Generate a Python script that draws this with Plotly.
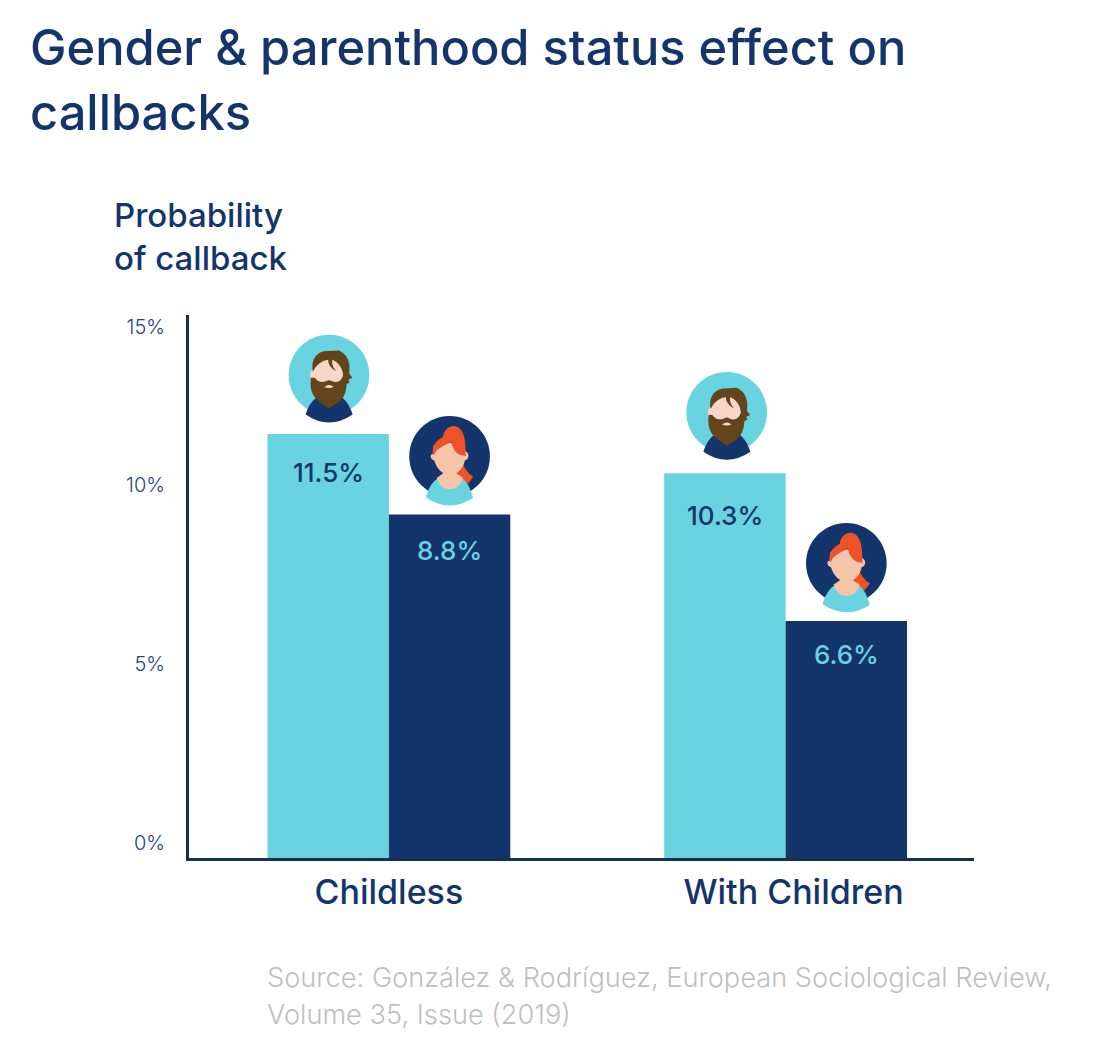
import re
import plotly.graph_objects as go

# Data
categories = ["Childless", "With Children"]
men_heights = [11.5, 10.44]      # drawn bar heights
women_heights = [9.32, 6.43]
men_labels = ["11.5%", "10.3%"]  # printed labels
women_labels = ["8.8%", "6.6%"]
tick_positions = [0.41, 5.26, 10.11, 14.4]
tick_labels = ["0%", "5%", "10%", "15%"]
category_tick_positions = [0, 1.02]

NAVY = "#14346C"
TEAL = "#6AD3E0"
AXIS = "#12324F"
FONT = "Inter"
W, H = 1102, 1052
PX = dict(l=188.5, r=974, t=315, b=858)
OFFSET_X = 8
OFFSET_Y = 8
CENTER0, STEP = 388.5, 397

BAR_HALF = 0.153
men_label_shift = [38, 42]
women_label_shift = [36, 34]
man_lift = [59, 60.7]
woman_lift = [58, 57.7]
man_dx = [0.8, 1.8]


def path(d, cy, cx=0):
    out, i = [], 0
    for tok in re.findall(r"[A-Za-z]|-?\d+\.?\d*", d):
        if tok.isalpha():
            out.append(tok)
        else:
            v = float(tok) / 3
            out.append(f"{cx + v:.2f}" if i % 2 == 0 else f"{cy - v:.2f}")
            i += 1
    return " ".join(out)


def part(x, y, d, cy, color, cx=0):
    return dict(type="path", xref="x", yref="y", xsizemode="pixel", ysizemode="pixel",
                xanchor=x, yanchor=y, path=path(d, cy, cx), fillcolor=color,
                line=dict(width=0), layer="above")


def disk(x, y, r, cy, color, cx=0):
    k = 0.5523 * r
    d = (f"M {-r},0 C {-r},{-k} {-k},{-r} 0,{-r} C {k},{-r} {r},{-k} {r},0 "
         f"C {r},{k} {k},{r} 0,{r} C {-k},{r} {-r},{k} {-r},0 Z")
    return part(x, y, d, cy, color, cx)


def man(x, y, cy, cx):
    brown, skin = "#62451A", "#F8D6C8"
    return [
        disk(x, y, 121, cy, TEAL, cx),
        part(x, y, "M -70,118 C -62,92 -48,72 -28,62 L 30,62 C 50,72 62,92 71,118 Q 0,166 -70,118 Z", cy, NAVY, cx),
        part(x, y, "M 36,-14 L 60,-6 L 70,8 L 58,14 L 62,22 L 50,28 L 44,36 L 36,36 Z", cy, brown, cx),
        part(x, y, "M -46,-16 C -58,-16 -60,6 -50,18 L -40,18 L -40,-16 Z", cy, skin, cx),
        part(x, y, "M -54,8 C -60,50 -44,70 -25,82 L 0,100 L 25,84 C 47,70 56,45 52,5 Z", cy, brown, cx),
        part(x, y, "M -46,-45 L 42,-45 L 42,2 C 36,20 22,25 8,18 Q 0,13 -8,18 C -24,25 -40,18 -46,0 Z", cy, skin, cx),
        part(x, y, "M -14,36 Q 0,24 14,36 Q 0,42 -14,36 Z", cy, skin, cx),
        part(x, y, "M -48,-10 C -56,-50 -32,-72 -5,-72 L 30,-74 L 40,-68 C 58,-56 66,-30 60,-2 L 42,-4 C 40,-24 25,-40 10,-46 C 8,-30 15,-20 22,-12 C 5,-20 -4,-35 -2,-46 C -20,-44 -38,-32 -48,-10 Z", cy, brown, cx),
    ]


def woman(x, y, cy):
    red, skin = "#EF5128", "#F4C5A8"
    return [
        disk(x, y, 121, cy, NAVY),
        part(x, y, "M 20,15 L 38,20 C 48,40 58,55 71,60 L 55,82 L 15,60 Z", cy, red),
        part(x, y, "M -71,123 C -65,100 -55,80 -38,68 L 40,68 C 55,80 64,100 70,125 Q 0,170 -71,123 Z", cy, TEAL),
        part(x, y, "M -38,64 L -18,50 L 18,50 L 40,64 C 30,110 -28,110 -38,64 Z", cy, skin),
        part(x, y, "M -48,-30 C -48,-48 48,-48 48,-15 C 60,-10 60,8 46,12 C 40,40 20,56 0,56 C -20,56 -40,35 -46,12 C -60,8 -60,-8 -48,-8 Z", cy, skin),
        part(x, y, "M -50,-5 C -55,-35 -35,-50 -20,-58 C -15,-95 25,-105 40,-70 C 52,-40 45,-10 50,-2 C 25,0 8,-20 5,-45 C -12,-32 -38,-28 -46,-5 Z", cy, red),
    ]


fig = go.Figure()
fig.add_bar(name="Men", x=categories, y=men_heights, marker=dict(color=TEAL, line=dict(width=0)))
fig.add_bar(name="Women", x=categories, y=women_heights, marker=dict(color=NAVY, line=dict(width=0)))

shapes, annotations = [], []
for i in range(len(categories)):
    shapes += man(i - BAR_HALF, men_heights[i], man_lift[i], man_dx[i])
    shapes += woman(i + BAR_HALF, women_heights[i], woman_lift[i])
    annotations.append(dict(x=i - BAR_HALF, y=men_heights[i], yshift=-men_label_shift[i], text=men_labels[i],
                            showarrow=False, yanchor="middle", font=dict(size=26, color=NAVY, weight=500)))
    annotations.append(dict(x=i + BAR_HALF, y=women_heights[i], yshift=-women_label_shift[i], text=women_labels[i],
                            showarrow=False, yanchor="middle", font=dict(size=26, color=TEAL, weight=500)))


def fx(px):
    return (px - PX["l"]) / (PX["r"] - PX["l"])


def fy(py):
    return (PX["b"] - py) / (PX["b"] - PX["t"])


annotations.append(dict(xref="paper", yref="paper", x=fx(111), y=fy(237), xanchor="left", yanchor="middle",
                        showarrow=False, align="left",
                        text="Probability<br>of callback",
                        font=dict(size=33, color=NAVY, weight=500)))
annotations.append(dict(xref="paper", yref="paper", x=fx(265), y=fy(996), xanchor="left", yanchor="middle",
                        showarrow=False, align="left",
                        text='<span style="font-size:27.2px">Source: González &amp; Rodríguez, European Sociological Review,</span><br>'
                             '<span style="font-size:27.2px">Volume 35, Issue (2019)</span>',
                        font=dict(size=28.5, color="#BFBFBF", weight=300)))

fig.update_layout(
    width=W, height=H, autosize=False,
    margin=dict(l=PX["l"] - OFFSET_X, r=W - PX["r"] + OFFSET_X, t=PX["t"] - OFFSET_Y, b=H - PX["b"] + OFFSET_Y, pad=0),
    paper_bgcolor="white", plot_bgcolor="white",
    font=dict(family=FONT, color=NAVY),
    showlegend=False, barmode="group", bargap=0.388, bargroupgap=0,
    title=dict(text='<span style="font-size:48.8px">Gender &amp; parenthood status effect on</span><br>'
                    '<span style="font-size:48.8px">callbacks</span>',
               x=22 / W, xanchor="left", xref="container", y=1 - 57 / H, yanchor="middle",
               font=dict(size=50, color=NAVY, weight=500)),
    xaxis=dict(type="category", range=[(PX["l"] - CENTER0) / STEP, (PX["r"] - CENTER0) / STEP],
               showgrid=False, zeroline=False,
               tickmode="array", tickvals=category_tick_positions, ticktext=categories,
               showline=True, linecolor=AXIS, linewidth=3, ticks="", ticklabelstandoff=2,
               tickfont=dict(size=34, color=NAVY, weight=500)),
    yaxis=dict(range=[0, 14.73], showgrid=False, zeroline=False, showline=True, linecolor=AXIS, linewidth=3,
               tickmode="array", tickvals=tick_positions, ticktext=tick_labels, ticks="", ticklabelstandoff=17,
               tickfont=dict(size=20, color="#24457F", weight=300)),
    shapes=shapes, annotations=annotations,
)
fig.write_html("out.html")
